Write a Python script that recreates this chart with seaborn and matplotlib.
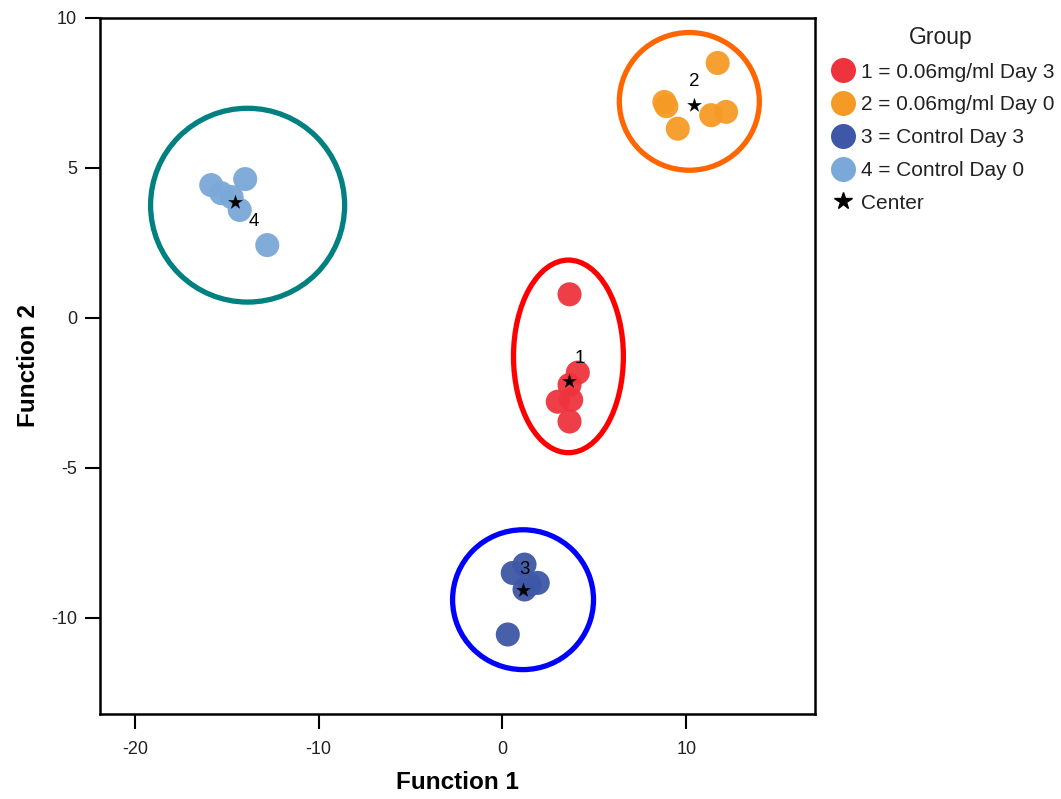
import numpy as np
import pandas as pd
import seaborn as sns
import matplotlib
matplotlib.use("Agg")
import matplotlib.pyplot as plt
from matplotlib.patches import Ellipse
from matplotlib.lines import Line2D

# ---- data ----
group_labels = ["1 = 0.06mg/ml Day 3", "2 = 0.06mg/ml Day 0",
                "3 = Control Day 3", "4 = Control Day 0"]
g1_x = [3.65, 4.10, 3.65, 3.01, 3.74, 3.65]
g1_y = [0.79, -1.82, -2.23, -2.79, -2.73, -3.45]
g2_x = [11.71, 8.81, 8.92, 9.54, 11.36, 12.17]
g2_y = [8.50, 7.20, 7.06, 6.31, 6.76, 6.87]
g3_x = [0.56, 1.20, 1.92, 1.20, 1.47, 0.29]
g3_y = [-8.50, -8.22, -8.83, -9.05, -8.89, -10.55]
g4_x = [-15.85, -15.30, -14.74, -14.30, -14.00, -12.80]
g4_y = [4.43, 4.16, 4.03, 3.60, 4.63, 2.43]
center_x = [3.61, 10.45, 1.14, -14.54]
center_y = [-2.09, 7.09, -9.08, 3.87]
center_ids = ["1", "2", "3", "4"]
# ellipses drawn around groups: center x, center y, width, height
ell_cx = [3.59, 10.17, 1.12, -13.87]
ell_cy = [-1.28, 7.22, -9.39, 3.76]
ell_w = [5.98, 7.62, 7.67, 10.56]
ell_h = [6.42, 4.59, 4.66, 6.46]

point_colors = ["#EE333D", "#F59B25", "#3E57A6", "#7AA8D8"]
ell_colors = ["#FF0000", "#FF6600", "#0000FF", "#008080"]

xs = [g1_x, g2_x, g3_x, g4_x]
ys = [g1_y, g2_y, g3_y, g4_y]
df = pd.DataFrame({
    "Function 1": sum(xs, []),
    "Function 2": sum(ys, []),
    "Group": sum([[lab] * len(x) for lab, x in zip(group_labels, xs)], []),
})
cdf = pd.DataFrame({"x": center_x, "y": center_y, "id": center_ids})

sns.set_theme(style="white")
plt.rcParams["font.family"] = ["Liberation Sans", "DejaVu Sans"]
plt.rcParams["axes.unicode_minus"] = False
plt.rcParams["text.color"] = "black"

fig = plt.figure(figsize=(10.61, 7.99), dpi=100)
ax = fig.add_axes([0.0943, 0.1064, 0.6737, 0.8711])

for cx, cy, w, h, c in zip(ell_cx, ell_cy, ell_w, ell_h, ell_colors):
    ax.add_patch(Ellipse((cx, cy), w, h, fill=False, edgecolor=c, lw=3.8, zorder=1))

sns.scatterplot(data=df, x="Function 1", y="Function 2", hue="Group",
                hue_order=group_labels, palette=point_colors, s=300,
                edgecolor="none", alpha=0.95, legend=False, ax=ax, zorder=2)
sns.scatterplot(data=cdf, x="x", y="y", marker="*", color="black", s=110,
                edgecolor="black", linewidth=0.2, legend=False, ax=ax, zorder=3)

offsets = {"1": (8, 16), "2": (0, 17), "3": (1, 15), "4": (13, -14)}
for x, y, t in zip(center_x, center_y, center_ids):
    ax.annotate(t, (x, y), xytext=offsets[t], textcoords="offset points",
                ha="center", va="center", fontsize=13.5, color="black", zorder=4)

ax.set_xlim(-21.9, 17.0)
ax.set_ylim(-13.2, 10.0)
ax.set_xticks([-20, -10, 0, 10])
ax.set_yticks([-10, -5, 0, 5, 10])
ax.tick_params(axis="both", which="both", direction="out", length=10.5, width=1.5,
               labelsize=13, colors="black", labelcolor="#222222",
               bottom=True, left=True, pad=6)
ax.tick_params(axis="x", pad=9)
for sp in ax.spines.values():
    sp.set_color("black")
    sp.set_linewidth(1.8)
ax.set_xlabel("Function 1", fontsize=17.5, fontweight="bold", labelpad=9, color="black")
ax.set_ylabel("Function 2", fontsize=17.5, fontweight="bold", labelpad=8, color="black")

handles = [Line2D([0], [0], marker="o", linestyle="none", markersize=18,
                  markerfacecolor=c, markeredgecolor="none") for c in point_colors]
handles.append(Line2D([0], [0], marker="*", linestyle="none", markersize=13,
                      markerfacecolor="black", markeredgecolor="black"))
leg = fig.legend(handles, group_labels + ["Center"], title="Group",
                 loc="upper left", bbox_to_anchor=(0.772, 0.978), frameon=False,
                 fontsize=15, title_fontsize=16.5, handletextpad=0.1,
                 labelspacing=0.66, borderaxespad=0, handlelength=1.5)
for t in leg.get_texts():
    t.set_color("#222222")
leg.get_title().set_color("#222222")

fig.savefig("out.png", dpi=100)
